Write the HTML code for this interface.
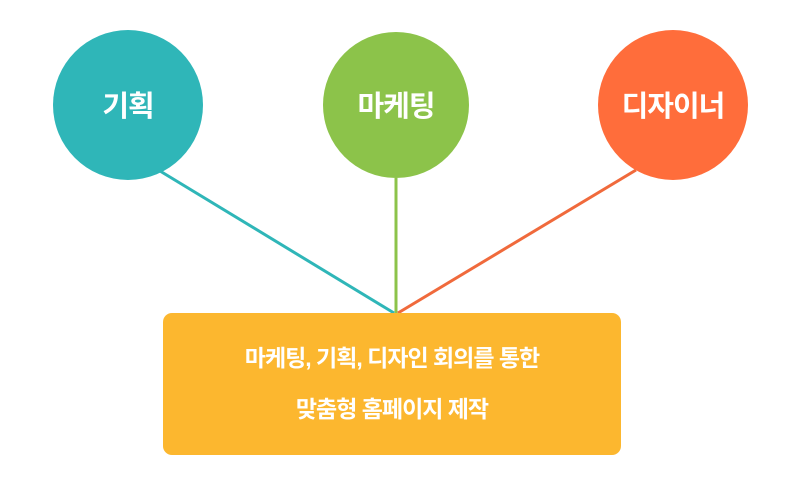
<!DOCTYPE html>
<html><head><meta charset="utf-8"><style>
body{margin:0;background:#fff;}
svg{display:block}
text{font-family:"Liberation Sans","Noto Sans CJK KR",sans-serif;font-weight:bold;fill:#fff;text-anchor:middle}
</style></head><body>
<svg width="800" height="497" viewBox="0 0 800 497">
<line x1="160" y1="171" x2="394" y2="313" stroke="#2fb6b8" stroke-width="3"/>
<line x1="396" y1="178" x2="396" y2="313" stroke="#8cc34a" stroke-width="3"/>
<line x1="636" y1="170" x2="398" y2="313" stroke="#f06a3c" stroke-width="3"/>
<circle cx="128" cy="105" r="75" fill="#2fb6b8"/>
<circle cx="396" cy="105" r="73" fill="#8cc34a"/>
<circle cx="673" cy="105" r="75" fill="#ff6d3b"/>
<rect x="163" y="313" width="458" height="142" rx="9" fill="#fcb72f"/>
<text x="128" y="116" font-size="29" letter-spacing="-1">기획</text>
<text x="396" y="116" font-size="29" letter-spacing="-1">마케팅</text>
<text x="673" y="116" font-size="29" letter-spacing="-1">디자이너</text>
<text x="392" y="366" font-size="23" letter-spacing="-1">마케팅, 기획, 디자인 회의를 통한</text>
<text x="392" y="417" font-size="23" letter-spacing="-1">맞춤형 홈페이지 제작</text>
</svg>
</body></html>
